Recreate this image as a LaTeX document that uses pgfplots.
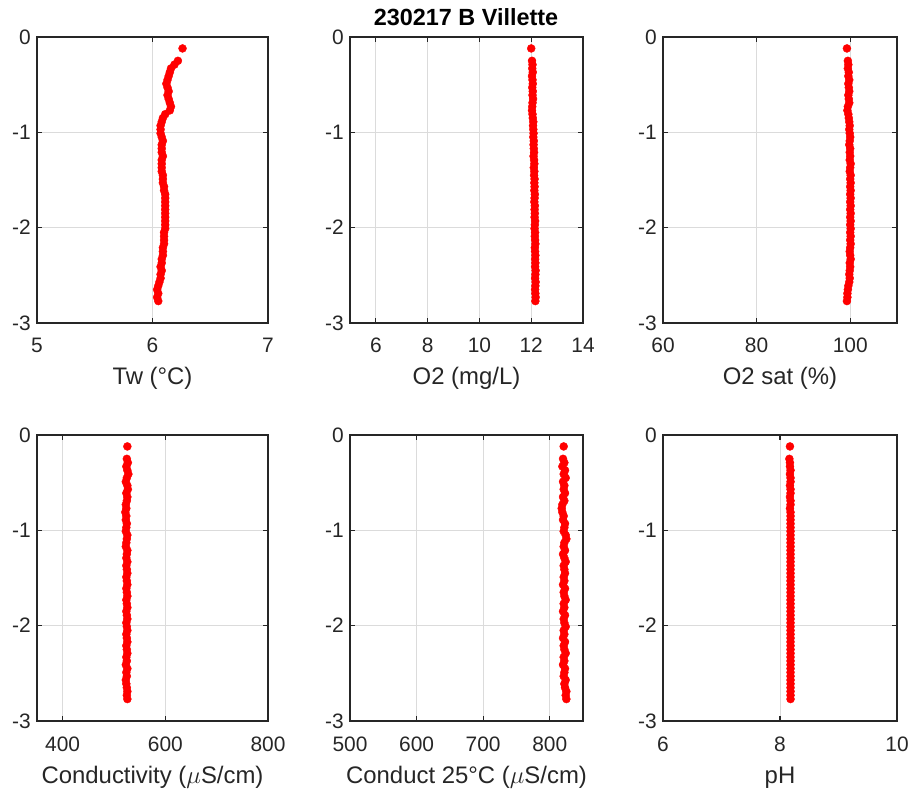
\documentclass[border=0pt]{standalone}
\usepackage{pgfplots}
\pgfplotsset{compat=1.18}
\usepackage{pgfplotstable}
\usepackage{fontspec}
\setmainfont{Liberation Sans}
\definecolor{axgray}{rgb}{0.15,0.15,0.15}
\definecolor{gridgray}{rgb}{0.86,0.86,0.86}
\definecolor{mred}{rgb}{1,0,0}

\pgfplotstableread{
d     tw    o2     sat    cond  ctf  ph
-0.12 6.26  12.00  99.3   526   821  8.17
-0.25 6.22  12.03  99.5   525   820  8.16
-0.29 6.19  12.05  99.6   527   822  8.17
-0.33 6.16  12.04  99.5   524   819  8.17
-0.37 6.15  12.06  99.7   526   823  8.18
-0.41 6.14  12.03  99.6   528   821  8.17
-0.45 6.13  12.05  99.8   525   824  8.18
-0.49 6.12  12.06  99.6   523   820  8.18
-0.53 6.13  12.04  99.7   526   822  8.17
-0.57 6.14  12.06  99.8   527   821  8.18
-0.61 6.13  12.05  99.6   524   823  8.18
-0.65 6.14  12.07  99.7   526   820  8.17
-0.69 6.15  12.05  99.8   525   822  8.18
-0.73 6.16  12.04  99.5   523   819  8.18
-0.77 6.15  12.03  99.4   524   818  8.17
-0.81 6.11  12.05  99.6   522   819  8.18
-0.85 6.09  12.06  99.7   524   821  8.18
-0.89 6.08  12.08  99.8   523   820  8.18
-0.93 6.07  12.07  99.9   525   823  8.18
-0.97 6.07  12.08  99.8   524   822  8.18
-1.01 6.07  12.09  99.9   523   821  8.18
-1.05 6.08  12.08  100.0  526   824  8.18
-1.09 6.09  12.10  99.9   525   825  8.18
-1.13 6.08  12.09  99.8   524   822  8.18
-1.17 6.08  12.10  100.0  523   821  8.18
-1.21 6.08  12.11  99.9   526   823  8.18
-1.25 6.09  12.09  100.0  525   820  8.18
-1.29 6.08  12.11  99.9   524   822  8.18
-1.33 6.08  12.12  100.1  526   824  8.18
-1.37 6.08  12.10  100.0  524   821  8.18
-1.41 6.08  12.12  99.9   525   822  8.18
-1.45 6.09  12.11  100.1  526   823  8.18
-1.49 6.09  12.13  100.0  524   821  8.18
-1.53 6.09  12.12  100.1  525   822  8.18
-1.57 6.10  12.13  100.0  526   820  8.18
-1.61 6.10  12.12  100.1  524   823  8.18
-1.65 6.11  12.14  100.0  525   821  8.18
-1.69 6.11  12.13  100.1  526   822  8.18
-1.73 6.11  12.12  100.0  524   824  8.18
-1.77 6.11  12.14  100.1  525   821  8.18
-1.81 6.11  12.13  100.0  526   822  8.18
-1.85 6.11  12.14  100.1  524   820  8.18
-1.89 6.11  12.13  100.0  525   823  8.18
-1.93 6.11  12.15  100.1  526   821  8.18
-1.97 6.11  12.14  100.0  524   822  8.18
-2.01 6.11  12.13  100.1  525   824  8.18
-2.05 6.10  12.15  100.0  526   821  8.18
-2.09 6.10  12.14  100.1  524   822  8.18
-2.13 6.10  12.15  100.0  525   820  8.18
-2.17 6.10  12.16  100.1  526   823  8.18
-2.21 6.09  12.14  100.0  524   821  8.18
-2.25 6.09  12.15  99.9   525   822  8.18
-2.29 6.09  12.16  100.0  526   824  8.18
-2.33 6.08  12.15  100.1  524   821  8.18
-2.37 6.08  12.16  99.9   525   822  8.18
-2.41 6.07  12.15  100.0  523   820  8.18
-2.45 6.08  12.17  99.9   526   823  8.18
-2.49 6.07  12.16  99.8   524   822  8.18
-2.53 6.07  12.15  99.9   525   821  8.18
-2.57 6.06  12.17  99.8   523   824  8.18
-2.61 6.05  12.16  99.6   524   822  8.18
-2.65 6.04  12.15  99.5   525   823  8.18
-2.69 6.05  12.16  99.4   526   825  8.18
-2.73 6.04  12.17  99.4   525   824  8.18
-2.77 6.05  12.16  99.3   526   825  8.18
}\prof

\pgfplotsset{
  prof/.style={
    scale only axis, width=232bp, height=286bp, anchor=south west,
    ymin=-3, ymax=0, ytick={-3,-2,-1,0},
    grid=major, major grid style={draw=gridgray, line width=0.8bp},
    axis line style={draw=axgray, line width=1.1bp},
    tick style={draw=axgray, line width=1.1bp},
    major tick length=5bp,
    tick label style={font=\fontsize{21}{21}\selectfont, text=axgray},
    yticklabel style={inner sep=0pt, xshift=-6bp},
    xticklabel style={anchor=base, yshift=-30bp},
    xlabel style={font=\fontsize{24}{24}\selectfont, text=axgray, at={(axis description cs:0.5,0)}, anchor=base, yshift=-62bp},
    /pgf/number format/assume math mode=true,
    clip=false,
  },
  dots/.style={only marks, mark=*, mark size=4bp, color=mred, mark options={draw=mred, fill=mred}},
}

\begin{document}
\begin{tikzpicture}
\useasboundingbox (0,0) rectangle (914bp,794bp);

\begin{axis}[prof, at={(37bp,471bp)}, width=231bp, xmin=5, xmax=7, xtick={5,6,7}, xlabel={Tw (°C)}]
\addplot[dots] table[x=tw, y=d]{\prof};
\end{axis}

\begin{axis}[prof, at={(350bp,471bp)}, width=233bp, xmin=5, xmax=14, xtick={6,8,10,12,14}, xlabel={O2 (mg/L)}]
\addplot[dots] table[x=o2, y=d]{\prof};
\end{axis}

\begin{axis}[prof, at={(663bp,471bp)}, width=234bp, xmin=60, xmax=110, xtick={60,80,100}, xlabel={O2 sat (\%)}]
\addplot[dots] table[x=sat, y=d]{\prof};
\end{axis}

\begin{axis}[prof, at={(37bp,73bp)}, width=231bp, xmin=350, xmax=800, xtick={400,600,800}, xlabel={Conductivity ($\mu$S/cm)}]
\addplot[dots] table[x=cond, y=d]{\prof};
\end{axis}

\begin{axis}[prof, at={(350bp,73bp)}, width=233bp, xmin=500, xmax=850, xtick={500,600,700,800}, xlabel={Conduct 25°C ($\mu$S/cm)}]
\addplot[dots] table[x=ctf, y=d]{\prof};
\end{axis}

\begin{axis}[prof, at={(663bp,73bp)}, width=234bp, xmin=6, xmax=10, xtick={6,8,10}, xlabel={pH}]
\addplot[dots] table[x=ph, y=d]{\prof};
\end{axis}

\node[font=\bfseries\fontsize{23.5}{23.5}\selectfont, anchor=base, text=black] at (466bp,768bp) {230217 B Villette};
\end{tikzpicture}
\end{document}
